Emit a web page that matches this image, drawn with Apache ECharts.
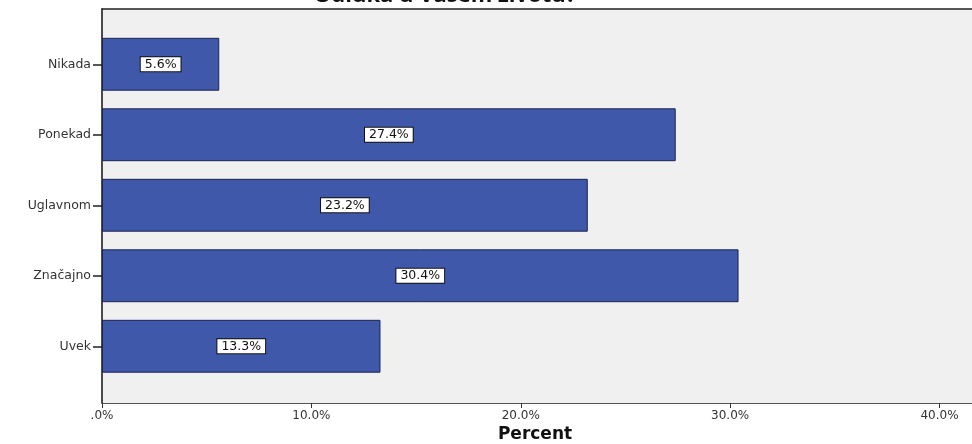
<!DOCTYPE html>
<html>
<head>
<meta charset="utf-8">
<script src="https://cdn.jsdelivr.net/npm/echarts@6/dist/echarts.min.js"></script>
<style>
html,body{margin:0;padding:0;background:#fff;}
#main{width:972px;height:444px;}
</style>
</head>
<body>
<div id="main"></div>
<script>
var categories = ['Nikada', 'Ponekad', 'Uglavnom', 'Značajno', 'Uvek'];
var percentValues = [5.6, 27.4, 23.2, 30.4, 13.3];
var tickValues = [0, 10, 20, 30, 40];
var titleText = 'Odluka u Vašem životu?';
var axisTitle = 'Percent';

var chart = echarts.init(document.getElementById('main'), null, {renderer: 'canvas'});
var XMAX = 41.55;
var fmt = function (v) { return v === 0 ? '.0%' : v.toFixed(1) + '%'; };
var FONT = 'DejaVu Sans';
var option = {
  animation: false,
  backgroundColor: '#ffffff',
  grid: [
    {left: 102, top: 9, right: 0, height: 394, show: true, backgroundColor: '#f0f0f0', borderWidth: 0},
    {left: 102, top: 29, right: 0, height: 352.5, show: false}
  ],
  xAxis: [
    {gridIndex: 0, type: 'value', min: 0, max: XMAX, interval: 10,
     splitLine: {show: false},
     axisLine: {show: true, lineStyle: {color: '#555', width: 1}},
     axisTick: {show: true, length: 5, lineStyle: {color: '#333'}},
     axisLabel: {show: true, formatter: function (v) { return tickValues.indexOf(v) >= 0 ? fmt(v) : ''; },
       showMaxLabel: false, color: '#333', fontSize: 12, fontFamily: FONT, margin: 7}},
    {gridIndex: 1, type: 'value', min: 0, max: XMAX, show: false, splitLine: {show: false}},
    {gridIndex: 0, type: 'value', min: 0, max: XMAX, position: 'top',
     splitLine: {show: false}, axisTick: {show: false}, axisLabel: {show: false},
     axisLine: {show: true, lineStyle: {color: '#222', width: 1.5}}}
  ],
  yAxis: [
    {gridIndex: 0, type: 'category', data: categories, inverse: true,
     axisLine: {show: true, lineStyle: {color: '#111', width: 1.5}},
     axisTick: {show: false}, axisLabel: {show: false}, splitLine: {show: false}},
    {gridIndex: 1, type: 'category', data: categories, inverse: true,
     axisLine: {show: false},
     axisTick: {show: true, alignWithLabel: true, length: 9, lineStyle: {color: '#222', width: 1.5}},
     axisLabel: {color: '#333', fontSize: 12.5, fontFamily: FONT, margin: 11},
     splitLine: {show: false}}
  ],
  series: [{
    type: 'bar', xAxisIndex: 1, yAxisIndex: 1,
    data: percentValues,
    barCategoryGap: '25%',
    itemStyle: {color: '#3F58AA', borderColor: '#1c2450', borderWidth: 1},
    label: {show: true, position: 'inside', formatter: function (p) { return p.value.toFixed(1) + '%'; },
      color: '#111', fontSize: 12.5, fontFamily: FONT, lineHeight: 13,
      backgroundColor: '#ffffff', borderColor: '#111', borderWidth: 1, padding: [1, 4, 0, 4]}
  }],
  graphic: [
    {type: 'text', x: 445, y: -15, style: {text: titleText, font: 'bold 22px "Open Sans"', fill: '#111', textAlign: 'center'}},
    {type: 'text', x: 535, y: 426, style: {text: axisTitle, font: 'bold 17px "DejaVu Sans"', fill: '#111', textAlign: 'center'}}
  ]
};
chart.setOption(option);
</script>
</body>
</html>
